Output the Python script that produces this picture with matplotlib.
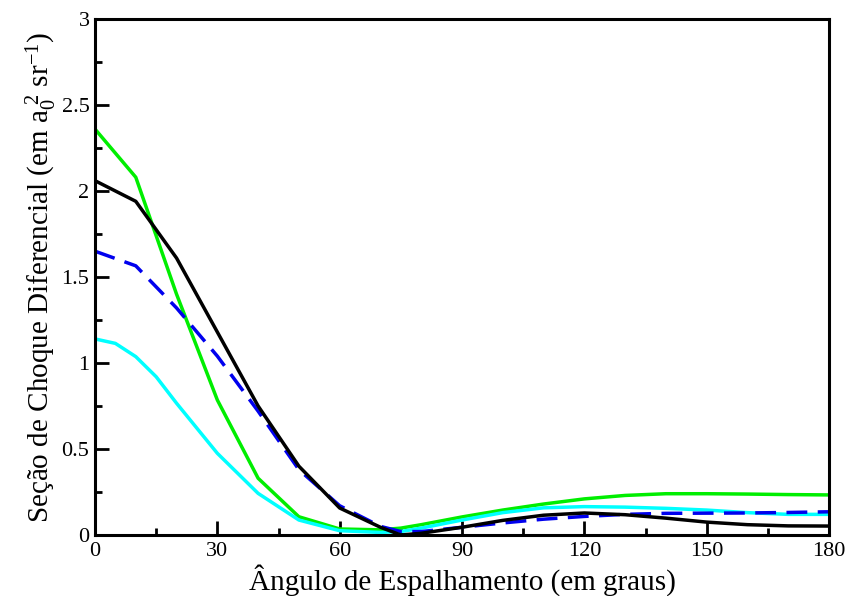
import matplotlib
matplotlib.use("Agg")
import matplotlib.pyplot as plt
from matplotlib.ticker import MultipleLocator

plt.rcParams['font.family'] = ['Liberation Serif', 'DejaVu Serif']
plt.rcParams['mathtext.fontset'] = 'custom'
plt.rcParams['mathtext.rm'] = 'Liberation Serif'
plt.rcParams['mathtext.it'] = 'Liberation Serif'

# Black solid
x_black = [0, 10, 20, 30, 40, 50, 60, 70, 75, 80, 90, 100, 110, 120, 130, 140, 150, 160, 170, 180]
y_black = [2.06, 1.94, 1.61, 1.18, 0.75, 0.40, 0.157, 0.045, 0.0, 0.01, 0.045, 0.085, 0.115, 0.128, 0.118, 0.098, 0.075, 0.06, 0.053, 0.052]

# Green solid
x_green = [0, 10, 20, 30, 40, 50, 60, 70, 75, 80, 90, 100, 110, 120, 130, 140, 150, 160, 170, 180]
y_green = [2.36, 2.08, 1.40, 0.785, 0.33, 0.106, 0.035, 0.03, 0.04, 0.06, 0.105, 0.145, 0.18, 0.21, 0.23, 0.24, 0.24, 0.238, 0.235, 0.233]

# Cyan solid
x_cyan = [0, 5, 10, 15, 20, 30, 40, 50, 60, 70, 75, 80, 90, 100, 110, 120, 130, 140, 150, 160, 170, 180]
y_cyan = [1.14, 1.114, 1.037, 0.92, 0.766, 0.475, 0.242, 0.087, 0.025, 0.015, 0.02, 0.04, 0.087, 0.13, 0.158, 0.165, 0.162, 0.155, 0.145, 0.13, 0.12, 0.12]

# Blue dashed
x_blue = [0, 10, 20, 30, 40, 50, 60, 70, 75, 80, 90, 100, 110, 120, 130, 140, 150, 160, 170, 180]
y_blue = [1.65, 1.565, 1.32, 1.04, 0.72, 0.38, 0.17, 0.05, 0.02, 0.02, 0.045, 0.07, 0.092, 0.108, 0.12, 0.126, 0.127, 0.128, 0.131, 0.135]

fig = plt.figure(figsize=(8.49, 5.96), dpi=100)
ax = fig.add_axes([95/849, 1-535/596, 734/849, 516/596])

lw = 2.5
ax.plot(x_green, y_green, color='#00ee00', lw=lw)
ax.plot(x_cyan, y_cyan, color='#00ffff', lw=lw)
ax.plot(x_blue, y_blue, color='#0000ee', lw=lw, dashes=(6, 3))
ax.plot(x_black, y_black, color='black', lw=lw)

ax.set_xlim(0, 180)
ax.set_ylim(0, 3)
ax.xaxis.set_major_locator(MultipleLocator(30))
ax.xaxis.set_minor_locator(MultipleLocator(15))
ax.yaxis.set_major_locator(MultipleLocator(0.5))
ax.yaxis.set_minor_locator(MultipleLocator(0.25))
ax.yaxis.set_major_formatter(matplotlib.ticker.FuncFormatter(lambda v, p: f"{v:g}"))
ax.tick_params(which='both', direction='in', top=False, right=False, labelsize=16, width=2)
ax.tick_params(which='major', length=10)
ax.tick_params(which='minor', length=5)
ax.tick_params(axis='x', pad=5)
ax.tick_params(axis='y', pad=4)
for s in ax.spines.values():
    s.set_linewidth(2.2)

ax.set_xlabel('Ângulo de Espalhamento (em graus)', fontsize=21, labelpad=2)
ax.set_ylabel(r'Seção de Choque Diferencial (em a$_0^{\ 2}$ sr$^{-1}$)', fontsize=21, labelpad=2)

fig.savefig('out.png', dpi=100)
